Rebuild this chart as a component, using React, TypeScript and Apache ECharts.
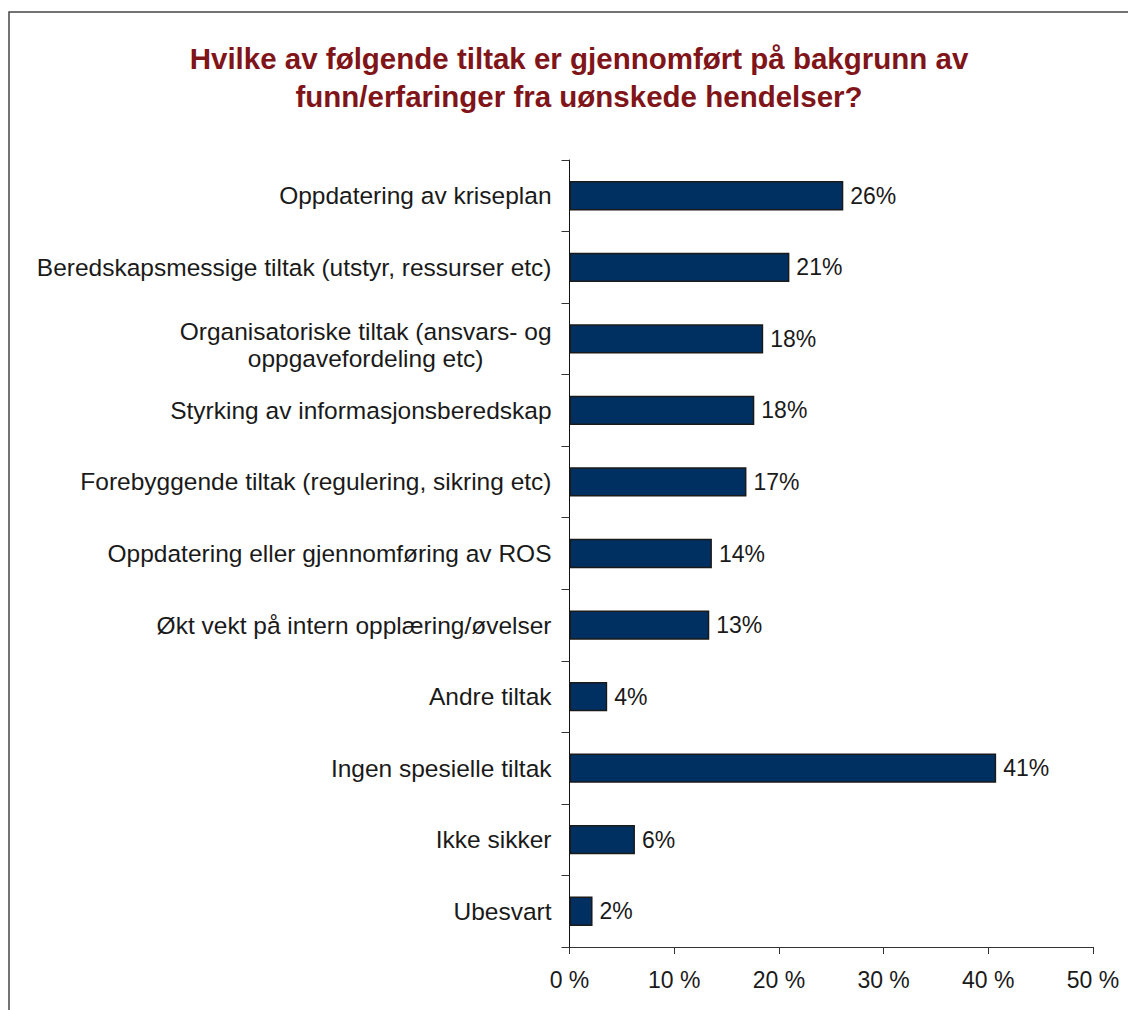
import React, { useEffect, useRef } from "react";
import * as echarts from "echarts";

const titleLines = [
  "Hvilke av følgende tiltak er gjennomført på bakgrunn av",
  "funn/erfaringer fra uønskede hendelser?",
];

const categories = [
  "Oppdatering av kriseplan",
  "Beredskapsmessige tiltak (utstyr, ressurser etc)",
  "Organisatoriske tiltak (ansvars- og\noppgavefordeling etc)",
  "Styrking av informasjonsberedskap",
  "Forebyggende tiltak (regulering, sikring etc)",
  "Oppdatering eller gjennomføring av ROS",
  "Økt vekt på intern opplæring/øvelser",
  "Andre tiltak",
  "Ingen spesielle tiltak",
  "Ikke sikker",
  "Ubesvart",
];

const values = [26.15, 21.0, 18.5, 17.65, 16.9, 13.6, 13.35, 3.6, 40.75, 6.25, 2.2];
const valueLabels = ["26%", "21%", "18%", "18%", "17%", "14%", "13%", "4%", "41%", "6%", "2%"];

const axisMin = 0;
const axisMax = 50;
const axisInterval = 10;

export default function App() {
  const ref = useRef<HTMLDivElement>(null);

  useEffect(() => {
    document.body.style.margin = "0";
    if (!ref.current) return;
    const chart = echarts.init(ref.current, null, { renderer: "svg" });
    const font = "'Liberation Sans', Arial, sans-serif";
    const richBase = {
      fontFamily: font,
      fontSize: 24.5,
      color: "#1a1a1a",
      align: "center",
      lineHeight: 27,
    };
    chart.setOption({
      animation: false,
      backgroundColor: "#ffffff",
      textStyle: { fontFamily: font },
      title: {
        text: titleLines.join("\n"),
        left: 574,
        top: 34,
        textAlign: "center",
        textStyle: {
          fontFamily: font,
          fontSize: 29.5,
          fontWeight: "bold",
          color: "#7f1419",
          lineHeight: 38,
        },
      },
      graphic: [
        {
          type: "rect",
          shape: { x: 9, y: 12, width: 1200, height: 1100 },
          style: { fill: "none", stroke: "#454545", lineWidth: 1.5 },
          silent: true,
        },
      ],
      grid: { left: 569.5, right: 35, top: 160, bottom: 63, containLabel: false },
      xAxis: {
        type: "value",
        min: axisMin,
        max: axisMax,
        interval: axisInterval,
        splitLine: { show: false },
        axisLine: { show: true, lineStyle: { color: "#333", width: 1 } },
        axisTick: { show: true, length: 7, lineStyle: { color: "#333" } },
        axisLabel: {
          fontFamily: font,
          fontSize: 23,
          color: "#1a1a1a",
          margin: 21,
          formatter: (v: number) => `${v} %`,
        },
      },
      yAxis: {
        type: "category",
        data: categories,
        inverse: true,
        axisLine: { show: true, lineStyle: { color: "#111", width: 1 } },
        axisTick: { show: true, length: 8, lineStyle: { color: "#333" } },
        axisLabel: {
          fontFamily: font,
          fontSize: 24.5,
          color: "#1a1a1a",
          margin: 18,
          lineHeight: 27,
          formatter: (v: string) => {
            const lines = v.split("\n");
            if (lines.length === 1) return `{c|${lines[0]}}`;
            return ["{s| }", ...lines.map((l) => `{c|${l}}`)].join("\n");
          },
          rich: {
            c: { ...richBase },
            s: { fontSize: 2, lineHeight: 12 },
          },
        },
      },
      series: [
        {
          type: "bar",
          data: values,
          barCategoryGap: "59%",
          itemStyle: { color: "#003061", borderColor: "#1a1a1a", borderWidth: 1.5 },
          label: {
            show: true,
            position: "right",
            distance: 7,
            fontFamily: font,
            fontSize: 23,
            color: "#1a1a1a",
            formatter: (p: any) => valueLabels[p.dataIndex],
          },
        },
      ],
    });
    return () => chart.dispose();
  }, []);

  return <div ref={ref} style={{ width: 1128, height: 1010 }} />;
}
